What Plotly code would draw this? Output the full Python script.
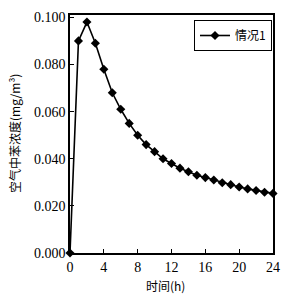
import plotly.graph_objects as go

hours = list(range(0, 25))
conc = [0.0, 0.090, 0.098, 0.089, 0.078, 0.068, 0.061, 0.055, 0.050, 0.046,
        0.043, 0.040, 0.038, 0.036, 0.0345, 0.033, 0.032, 0.031, 0.0298, 0.029,
        0.028, 0.0272, 0.0265, 0.0258, 0.0253]
series_name = "情况1"
x_ticks = [0, 4, 8, 12, 16, 20, 24]
y_ticks = [0.0, 0.02, 0.04, 0.06, 0.08, 0.10]

fig = go.Figure()
fig.add_trace(go.Scatter(
    x=hours, y=conc, mode="lines+markers", name=series_name,
    line=dict(color="black", width=1.6),
    marker=dict(symbol="diamond", size=7, color="black"),
    cliponaxis=False,
))

serif = "Liberation Serif"
cjk = "Noto Sans CJK SC"

fig.update_layout(
    width=291, height=297,
    margin=dict(l=70, r=18, t=10, b=44),
    paper_bgcolor="white", plot_bgcolor="white",
    showlegend=True,
    legend=dict(
        x=0.995, y=0.979, xanchor="right", yanchor="top",
        bordercolor="black", borderwidth=1, bgcolor="white",
        font=dict(family=cjk, size=12, color="black"),
        itemwidth=30,
    ),
    xaxis=dict(
        range=[0, 24], tickvals=x_ticks, ticktext=[str(v) for v in x_ticks],
        ticks="inside", ticklen=4, tickcolor="black",
        showline=True, linecolor="black", linewidth=1.5, mirror=True,
        showgrid=False, zeroline=False,
        tickfont=dict(family=serif, size=14, color="black"),
    ),
    yaxis=dict(
        range=[0, 0.101], tickvals=y_ticks, tickformat=".3f",
        ticks="inside", ticklen=4, tickcolor="black",
        showline=True, linecolor="black", linewidth=1.5, mirror=True,
        showgrid=False, zeroline=False,
        tickfont=dict(family=serif, size=14, color="black"),
    ),
    annotations=[
        dict(text="空气中苯浓度(mg/m³)", xref="paper", yref="paper",
             x=0, y=0.5, xanchor="center", yanchor="middle", xshift=-56,
             textangle=-90, showarrow=False,
             font=dict(family=cjk, size=12, color="black")),
        dict(text="时间(h)", xref="paper", yref="paper",
             x=0.5, y=0, xanchor="center", yanchor="middle", xshift=-6, yshift=-32,
             showarrow=False,
             font=dict(family=cjk, size=12, color="black")),
    ],
)

fig.write_html("out.html")
